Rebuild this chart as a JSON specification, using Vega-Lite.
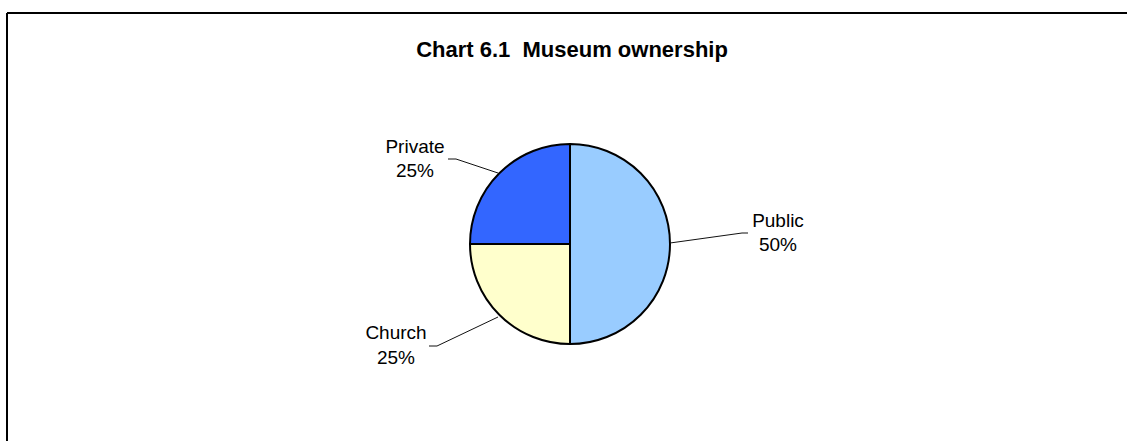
{
  "$schema": "https://vega.github.io/schema/vega-lite/v6.json",
  "width": 1120,
  "height": 428,
  "autosize": {"type": "none"},
  "padding": {"left": 7, "top": 13, "right": 0, "bottom": 0},
  "background": "white",
  "config": {
    "view": {"stroke": null},
    "font": "Liberation Sans"
  },
  "datasets": {
    "frame": [
      {"side": "top", "fx": -5.63, "fy": 2.31, "fx2": 5.57, "fy2": 2.31},
      {"side": "left", "fx": -5.63, "fy": 2.31, "fx2": -5.63, "fy2": -1.97}
    ],
    "slices": [
      {"ownership": "Public", "share": 50, "order": 1},
      {"ownership": "Church", "share": 25, "order": 2},
      {"ownership": "Private", "share": 25, "order": 3}
    ],
    "leaders": [
      {"label": "Public", "seq": 1, "lx": 1.0, "ly": 0.01},
      {"label": "Public", "seq": 2, "lx": 1.72, "ly": 0.11},
      {"label": "Public", "seq": 3, "lx": 1.78, "ly": 0.11},
      {"label": "Private", "seq": 1, "lx": -0.72, "ly": 0.71},
      {"label": "Private", "seq": 2, "lx": -1.14, "ly": 0.85},
      {"label": "Private", "seq": 3, "lx": -1.22, "ly": 0.85},
      {"label": "Church", "seq": 1, "lx": -0.72, "ly": -0.73},
      {"label": "Church", "seq": 2, "lx": -1.33, "ly": -1.02},
      {"label": "Church", "seq": 3, "lx": -1.41, "ly": -1.02}
    ],
    "labels": [
      {"text": "Public", "tx": 2.08, "ty": 0.17},
      {"text": "50%", "tx": 2.08, "ty": -0.07},
      {"text": "Private", "tx": -1.55, "ty": 0.91},
      {"text": "25%", "tx": -1.55, "ty": 0.67},
      {"text": "Church", "tx": -1.74, "ty": -0.95},
      {"text": "25%", "tx": -1.74, "ty": -1.2}
    ],
    "title": [
      {"text": "Chart 6.1\u00a0 Museum ownership", "tx": 0.02, "ty": 1.87}
    ]
  },
  "layer": [
    {
      "data": {"name": "frame"},
      "mark": {"type": "rule", "color": "black", "strokeWidth": 2},
      "encoding": {
        "x": {"field": "fx", "type": "quantitative", "scale": {"domain": [-5.63, 5.57], "zero": false, "nice": false}, "axis": null},
        "y": {"field": "fy", "type": "quantitative", "scale": {"domain": [-1.97, 2.31], "zero": false, "nice": false}, "axis": null},
        "x2": {"field": "fx2"},
        "y2": {"field": "fy2"}
      }
    },
    {
      "data": {"name": "slices"},
      "mark": {"type": "arc", "outerRadius": 100, "stroke": "black", "strokeWidth": 2},
      "encoding": {
        "x": {"datum": 0, "type": "quantitative", "axis": null},
        "y": {"datum": 0, "type": "quantitative", "axis": null},
        "theta": {"field": "share", "type": "quantitative", "stack": true},
        "order": {"field": "order", "type": "quantitative"},
        "color": {
          "field": "ownership",
          "type": "nominal",
          "scale": {"domain": ["Public", "Church", "Private"], "range": ["#99CCFF", "#FFFFCC", "#3366FF"]},
          "legend": null
        }
      }
    },
    {
      "data": {"name": "leaders"},
      "mark": {"type": "line", "color": "#111111", "strokeWidth": 1},
      "encoding": {
        "x": {"field": "lx", "type": "quantitative", "axis": null},
        "y": {"field": "ly", "type": "quantitative", "axis": null},
        "detail": {"field": "label", "type": "nominal"},
        "order": {"field": "seq", "type": "quantitative"}
      }
    },
    {
      "data": {"name": "labels"},
      "mark": {"type": "text", "align": "center", "baseline": "alphabetic", "fontSize": 19, "color": "#000000"},
      "encoding": {
        "x": {"field": "tx", "type": "quantitative", "axis": null},
        "y": {"field": "ty", "type": "quantitative", "axis": null},
        "text": {"field": "text", "type": "nominal"}
      }
    },
    {
      "data": {"name": "title"},
      "mark": {"type": "text", "align": "center", "baseline": "alphabetic", "fontSize": 22, "fontWeight": "bold", "color": "#000000"},
      "encoding": {
        "x": {"field": "tx", "type": "quantitative", "axis": null},
        "y": {"field": "ty", "type": "quantitative", "axis": null},
        "text": {"field": "text", "type": "nominal"}
      }
    }
  ]
}
